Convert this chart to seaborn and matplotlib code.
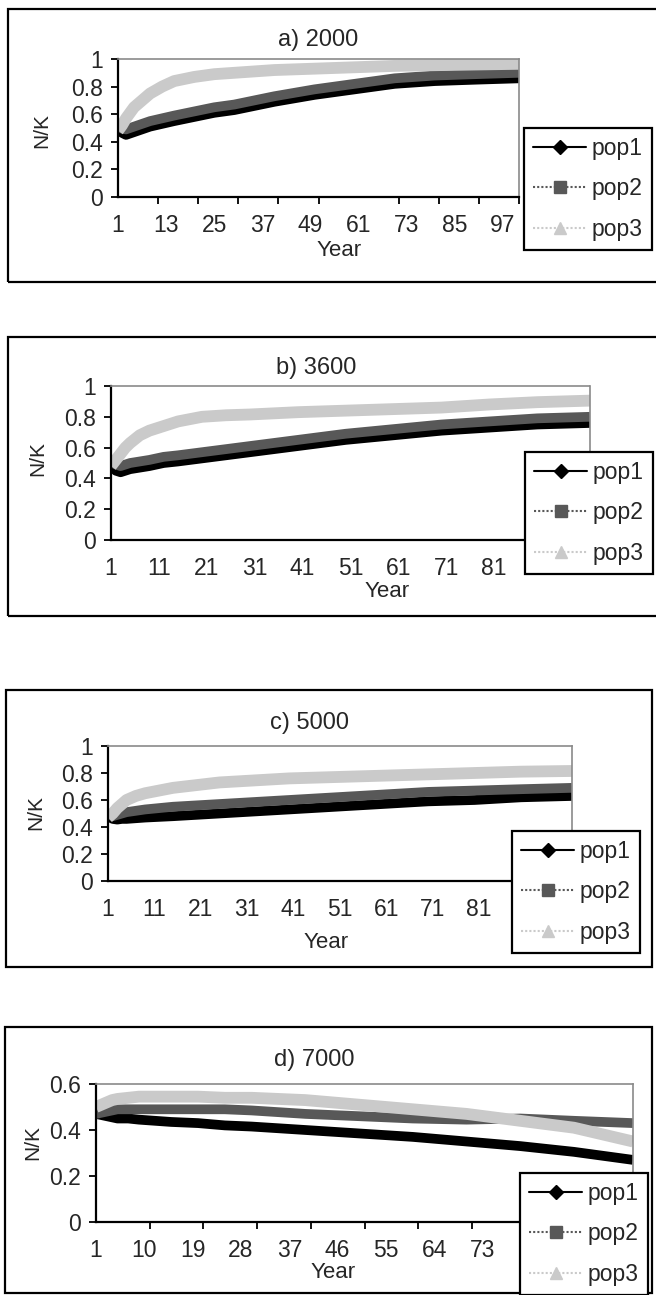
import matplotlib
matplotlib.use('Agg')
import matplotlib.pyplot as plt
from matplotlib.lines import Line2D
from matplotlib.patches import Rectangle
import seaborn as sns

years = [1, 2, 3, 4, 5, 7, 9, 12, 15, 20, 25, 30, 40, 50, 60, 70, 80, 90, 101]

# a) 2000
pop1_a = [0.49, 0.465, 0.45, 0.46, 0.47, 0.49, 0.51, 0.53, 0.55, 0.58, 0.61, 0.63, 0.69, 0.74, 0.78, 0.82, 0.84, 0.85, 0.86]
pop2_a = [0.51, 0.495, 0.49, 0.50, 0.51, 0.53, 0.55, 0.57, 0.59, 0.62, 0.65, 0.67, 0.73, 0.78, 0.82, 0.86, 0.88, 0.89, 0.90]
pop3_a = [0.48, 0.52, 0.57, 0.61, 0.65, 0.70, 0.75, 0.80, 0.84, 0.87, 0.89, 0.90, 0.92, 0.93, 0.94, 0.95, 0.955, 0.96, 0.965]

# b) 3600
pop1_b = [0.49, 0.45, 0.44, 0.45, 0.46, 0.47, 0.48, 0.50, 0.51, 0.53, 0.55, 0.57, 0.61, 0.65, 0.68, 0.71, 0.73, 0.75, 0.76]
pop2_b = [0.51, 0.49, 0.48, 0.49, 0.50, 0.51, 0.52, 0.54, 0.55, 0.57, 0.59, 0.61, 0.65, 0.69, 0.72, 0.75, 0.77, 0.79, 0.80]
pop3_b = [0.48, 0.52, 0.56, 0.60, 0.63, 0.68, 0.71, 0.74, 0.77, 0.80, 0.81, 0.815, 0.83, 0.84, 0.85, 0.86, 0.88, 0.895, 0.905]

# c) 5000
pop1_c = [0.48, 0.46, 0.455, 0.46, 0.46, 0.465, 0.47, 0.475, 0.48, 0.49, 0.50, 0.51, 0.53, 0.55, 0.57, 0.59, 0.60, 0.62, 0.63]
pop2_c = [0.50, 0.48, 0.49, 0.50, 0.51, 0.52, 0.53, 0.54, 0.55, 0.56, 0.57, 0.58, 0.60, 0.62, 0.64, 0.66, 0.67, 0.68, 0.69]
pop3_c = [0.47, 0.50, 0.54, 0.57, 0.60, 0.63, 0.65, 0.67, 0.69, 0.71, 0.73, 0.74, 0.76, 0.77, 0.78, 0.79, 0.80, 0.81, 0.815]

# d) 7000
pop1_d = [0.47, 0.465, 0.46, 0.455, 0.45, 0.45, 0.445, 0.44, 0.435, 0.43, 0.42, 0.415, 0.40, 0.385, 0.37, 0.35, 0.33, 0.305, 0.27]
pop2_d = [0.47, 0.475, 0.48, 0.485, 0.49, 0.49, 0.49, 0.49, 0.49, 0.49, 0.49, 0.485, 0.47, 0.46, 0.45, 0.445, 0.45, 0.44, 0.43]
pop3_d = [0.50, 0.51, 0.52, 0.53, 0.535, 0.54, 0.545, 0.545, 0.545, 0.545, 0.54, 0.54, 0.53, 0.51, 0.49, 0.47, 0.44, 0.41, 0.35]

titles = ['a) 2000', 'b) 3600', 'c) 5000', 'd) 7000']
series_names = ['pop1', 'pop2', 'pop3']
colors = ['#000000', '#585858', '#cacaca']

# tick labels that show (the rest are hidden behind the legend)
xlabels_a = [1, 13, 25, 37, 49, 61, 73, 85, 97]
xlabels_b = [1, 11, 21, 31, 41, 51, 61, 71, 81, 91]
xlabels_c = [1, 11, 21, 31, 41, 51, 61, 71, 81]
xlabels_d = [1, 10, 19, 28, 37, 46, 55, 64, 73]
xmarks = [1, 11, 21, 31, 41, 51, 61, 71, 81, 91, 101]
yticks_full = [0, 0.2, 0.4, 0.6, 0.8, 1]
yticks_d = [0, 0.2, 0.4, 0.6]

W, H = 656, 1295
sns.set_style('white')
plt.rcParams['font.family'] = ['Liberation Sans', 'DejaVu Sans']

fig = plt.figure(figsize=(W / 100, H / 100), dpi=100)


def fx(px):
    return px / W


def fy(py):
    return 1 - py / H


panels = [
    dict(pops=(pop1_a, pop2_a, pop3_a), labels=xlabels_a, yt=yticks_full, ymax=1,
         box=(8, 9, 700, 282), plot=(118, 59, 519, 197), leg=(524, 128),
         title=(318, 40), year=(339, 251), ylab=(42, 130)),
    dict(pops=(pop1_b, pop2_b, pop3_b), labels=xlabels_b, yt=yticks_full, ymax=1,
         box=(8, 337, 700, 616), plot=(111, 386, 590, 540), leg=(525, 452),
         title=(316, 368), year=(387, 592), ylab=(38, 458)),
    dict(pops=(pop1_c, pop2_c, pop3_c), labels=xlabels_c, yt=yticks_full, ymax=1,
         box=(6, 690, 652, 967), plot=(108, 746, 572, 881), leg=(512, 831),
         title=(310, 723), year=(326, 942), ylab=(36, 813)),
    dict(pops=(pop1_d, pop2_d, pop3_d), labels=xlabels_d, yt=yticks_d, ymax=0.6,
         box=(5, 1027, 652, 1293), plot=(96, 1084, 633, 1222), leg=(520, 1173),
         title=(314, 1060), year=(333, 1273), ylab=(33, 1143)),
]

for title, p in zip(titles, panels):
    bx0, by0, bx1, by1 = p['box']
    fig.add_artist(Rectangle((fx(bx0), fy(by1)), fx(bx1 - bx0), (by1 - by0) / H,
                             transform=fig.transFigure, fill=False,
                             edgecolor='black', linewidth=1.6, zorder=0))

    x0, y0, x1, y1 = p['plot']
    ax = fig.add_axes([fx(x0), fy(y1), fx(x1 - x0), (y1 - y0) / H])
    ax.set_facecolor('none')

    lws = [7, 7, 8.5]
    for vals, c, lw in zip(p['pops'], colors, lws):
        sns.lineplot(x=years, y=vals, ax=ax, color=c, linewidth=lw,
                     legend=False, solid_capstyle='butt')

    ax.set_xlim(1, 101)
    ax.set_ylim(0, p['ymax'])
    ax.set_xticks(p['labels'])
    ax.set_xticklabels([str(v) for v in p['labels']], fontsize=16.5)
    ax.set_xticks(xmarks, minor=True)
    ax.set_yticks(p['yt'])
    ax.set_yticklabels(['0' if v == 0 else ('1' if v == 1 else f'{v:.1f}') for v in p['yt']],
                       fontsize=16.5)
    ax.tick_params(axis='x', which='major', length=0, pad=12, bottom=True)
    ax.tick_params(axis='x', which='minor', length=5, width=1.3, direction='out',
                   bottom=True, color='black')
    ax.tick_params(axis='y', which='major', length=5, width=1.3, direction='out',
                   left=True, pad=6, color='black')
    ax.set_xlabel('')
    ax.set_ylabel('')

    for side in ['left', 'bottom']:
        ax.spines[side].set_color('black')
        ax.spines[side].set_linewidth(1.6)
    for side in ['top', 'right']:
        ax.spines[side].set_color('#8a8a8a')
        ax.spines[side].set_linewidth(1.2)
        ax.spines[side].set_linestyle((0, (1, 1)))

    fig.text(fx(p['title'][0]), fy(p['title'][1]), title, fontsize=17,
             ha='center', va='center')
    fig.text(fx(p['year'][0]), fy(p['year'][1]), 'Year', fontsize=16,
             ha='center', va='center')
    fig.text(fx(p['ylab'][0]), fy(p['ylab'][1]), 'N/K', fontsize=15,
             ha='center', va='center', rotation=90)

    handles = [
        Line2D([], [], color=colors[0], linewidth=1.5, marker='D', markersize=7),
        Line2D([], [], color=colors[1], linewidth=1.5, linestyle=(0, (1, 1)),
               marker='s', markersize=8),
        Line2D([], [], color=colors[2], linewidth=1.5, linestyle=(0, (1, 1)),
               marker='^', markersize=8),
    ]
    leg = fig.legend(handles, series_names, loc='upper left',
                     bbox_to_anchor=(fx(p['leg'][0]), fy(p['leg'][1])),
                     fontsize=16.5, frameon=True, fancybox=False, framealpha=1,
                     edgecolor='black', borderpad=0.4, labelspacing=0.75,
                     handlelength=2.3, handletextpad=0.25, borderaxespad=0)
    leg.get_frame().set_linewidth(1.6)
    leg.set_zorder(10)

fig.savefig('out.png', dpi=100)
